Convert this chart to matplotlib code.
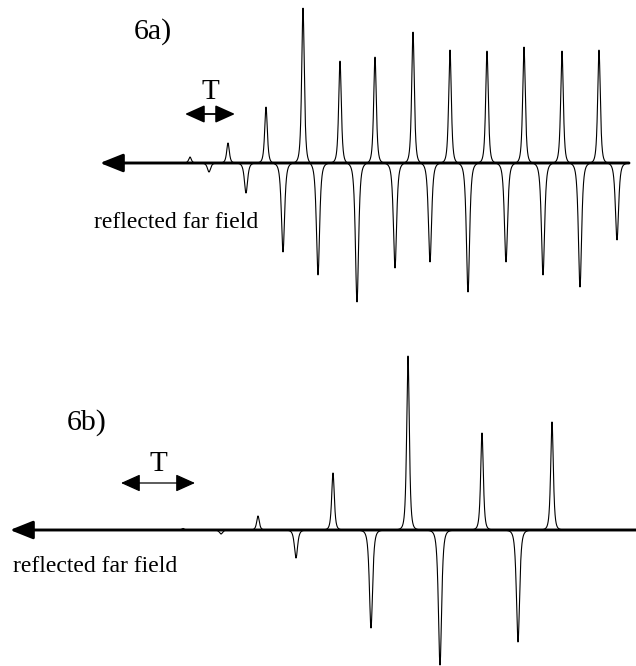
import numpy as np
import matplotlib
matplotlib.use("Agg")
import matplotlib.pyplot as plt

# ---- data (x in time units along the trace, y = amplitude) ----
# panel 6a
a_pos_t = [190, 228, 266, 303, 340, 375, 413, 450, 487, 524, 562, 599]
a_pos_amp = [6, 20, 56, 155, 102, 106, 131, 113, 112, 116, 112, 113]
a_neg_t = [209, 246, 283, 318, 357, 395, 430, 468, 506, 543, 580, 617]
a_neg_amp = [9, 30, 89, 112, 139, 105, 99, 129, 99, 112, 124, 77]
# panel 6b
b_pos_t = [183, 258, 333, 408, 482, 552]
b_pos_amp = [1.5, 14, 57, 174, 97, 108]
b_neg_t = [221, 296, 371, 440, 518]
b_neg_amp = [4, 28, 98, 135, 112]

labels = ["6a)", "6b)"]
caption = "reflected far field"

W, H = 636, 666
fig = plt.figure(figsize=(W / 100, H / 100), dpi=100)
SERIF = "Liberation Serif"


def pulse(x, t0, amp, w):
    return amp / (1.0 + ((x - t0) / w) ** 2) ** 2


def trace(x, pos_t, pos_a, neg_t, neg_a):
    y = np.zeros_like(x)
    for t, a in zip(pos_t, pos_a):
        y += pulse(x, t, a, 2.4)
    for t, a in zip(neg_t, neg_a):
        y -= pulse(x, t, a, 2.9)
    return y


def panel(rect, ylim, x0, x1, pos_t, pos_a, neg_t, neg_a, lab, lab_xy,
          T_x, T_y, T_text_y, cap_xy, t_lw):
    ax = fig.add_axes(rect)
    ax.set_xlim(0, W)
    ax.set_ylim(*ylim)
    ax.axis("off")
    x = np.linspace(x0 + 20, x1, 8000)
    y = trace(x, pos_t, pos_a, neg_t, neg_a)
    ax.plot(x, y, color="black", lw=0.8)
    ax.annotate("", xy=(x0, 0), xytext=(x1, 0),
                arrowprops=dict(arrowstyle="-|>,head_length=1.0,head_width=0.4",
                                mutation_scale=14, lw=2.1, color="black",
                                shrinkA=0, shrinkB=0))
    ax.annotate("", xy=(T_x[0], T_y), xytext=(T_x[1], T_y),
                arrowprops=dict(arrowstyle="<|-|>,head_length=1.0,head_width=0.45",
                                mutation_scale=12, lw=t_lw, color="black",
                                shrinkA=0, shrinkB=0))
    ax.text((T_x[0] + T_x[1]) / 2, T_text_y, "T", family=SERIF, fontsize=21,
            ha="center", va="center")
    ax.text(lab_xy[0], lab_xy[1], lab, family=SERIF, fontsize=21.5,
            ha="left", va="center")
    ax.text(cap_xy[0], cap_xy[1], caption, family=SERIF, fontsize=17,
            ha="left", va="center")
    return ax


# top panel: baseline at 163 px from top of figure
panel([0, 0.5, 1, 0.5], (-170, 163), 100, 629,
      a_pos_t, a_pos_amp, a_neg_t, a_neg_amp, labels[0], (134, 131),
      (185, 235), 49, 71, (94, -60), 1.3)
# bottom panel: baseline at 530 px from top
panel([0, 0.0, 1, 0.5], (-136, 197), 10, 636,
      b_pos_t, b_pos_amp, b_neg_t, b_neg_amp, labels[1], (67, 107),
      (121, 195), 47, 66, (13, -37), 0.9)

fig.savefig("out.png", dpi=100)
